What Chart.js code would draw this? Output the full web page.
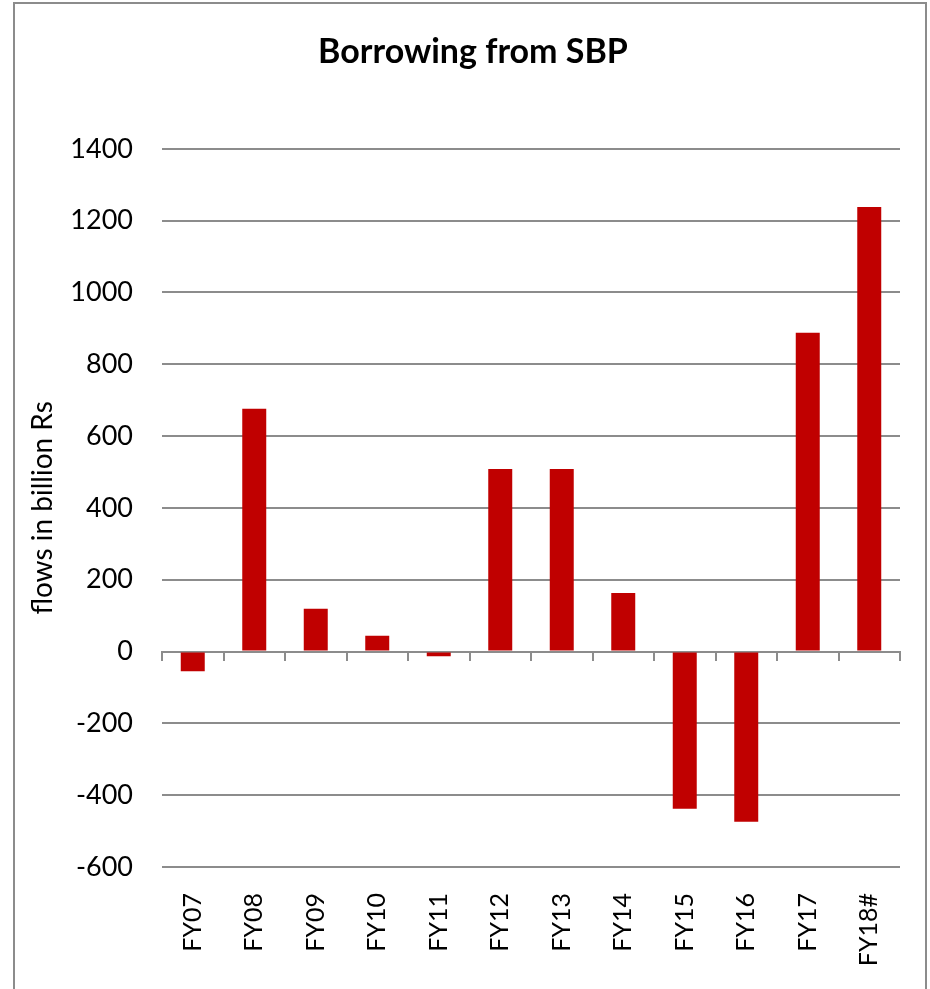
<!DOCTYPE html>
<html>
<head>
<meta charset="utf-8">
<script src="https://cdn.jsdelivr.net/npm/chart.js@4"></script>
<style>
  html, body { margin: 0; padding: 0; background: #fff; }
  #wrap { position: relative; width: 930px; height: 989px; overflow: hidden; }
  #frame { position: absolute; left: 13px; top: 2px; width: 910px; height: 1000px; border: 2px solid #8c8c8c; }
  canvas { position: absolute; left: 0; top: 0; }
</style>
</head>
<body>
<div id="wrap">
  <div id="frame"></div>
  <canvas id="chart" width="930" height="989"></canvas>
</div>
<script>
// data (billion Rs)
const years = ['FY07', 'FY08', 'FY09', 'FY10', 'FY11', 'FY12', 'FY13', 'FY14', 'FY15', 'FY16', 'FY17', 'FY18#'];
const borrowing = [-55, 676, 119, 44, -13, 508, 508, 163, -438, -474, 888, 1238];

const font = 'Lato, "Open Sans", sans-serif';

const ctx = document.getElementById('chart').getContext('2d');
new Chart(ctx, {
    type: 'bar',
    data: {
        labels: years,
        datasets: [{
            label: 'Borrowing from SBP',
            data: borrowing,
            backgroundColor: '#C00000',
            borderWidth: 0,
            categoryPercentage: 1,
            barPercentage: 0.39,
            xAxisID: 'x'
        }]
    },
    options: {
        responsive: false,
        animation: false,
        layout: { padding: { left: 16, right: 0, top: 0, bottom: 0 } },
        plugins: {
            legend: { display: false },
            tooltip: { enabled: false },
            title: {
                display: true,
                text: 'Borrowing from SBP',
                color: '#000',
                font: { family: font, size: 34, weight: 'bold', lineHeight: 1.2 },
                padding: { top: 32, bottom: 76 }
            }
        },
        scales: {
            x: {
                position: 'bottom',
                grid: { display: false },
                border: { display: false },
                ticks: {
                    color: '#000',
                    font: { family: font, size: 25 },
                    minRotation: 90,
                    maxRotation: 90,
                    padding: 18
                },
                afterFit: (axis) => { axis.height = 122; }
            },
            // small tick marks on the zero line
            x0: {
                type: 'category',
                position: { y: 0 },
                grid: { drawOnChartArea: false, drawTicks: true, tickLength: 8, color: '#8c8c8c', lineWidth: 2, offset: true },
                border: { display: true, color: '#8c8c8c', width: 2 },
                ticks: { display: false }
            },
            y: {
                min: -600,
                max: 1400,
                ticks: {
                    stepSize: 200,
                    color: '#000',
                    font: { family: font, size: 27 },
                    padding: 29,
                    callback: (v) => String(v)
                },
                grid: { color: '#8c8c8c', lineWidth: 2, drawTicks: false },
                border: { display: false },
                title: {
                    display: true,
                    text: 'flows in billion Rs',
                    color: '#000',
                    font: { family: font, size: 28 },
                    padding: { top: 10, bottom: 0 }
                },
                afterFit: (axis) => { axis.width = 146; }
            },
            // empty right margin so the plot ends where the original does
            yRight: {
                position: 'right',
                grid: { display: false },
                border: { display: false },
                ticks: { display: false },
                afterFit: (axis) => { axis.width = 30; }
            }
        }
    }
});
</script>
</body>
</html>
